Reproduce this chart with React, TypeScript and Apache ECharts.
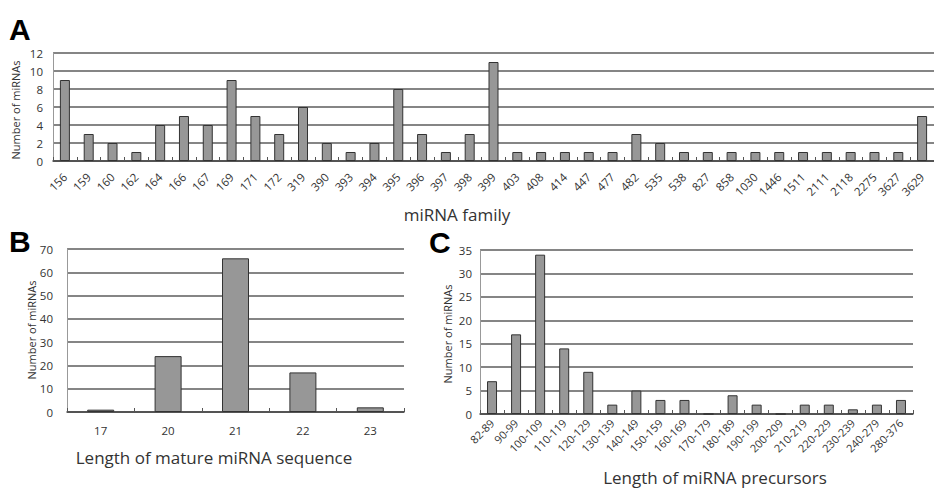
import React, { useEffect, useRef } from "react";
import * as echarts from "echarts";

const familyCats = ["156","159","160","162","164","166","167","169","171","172","319","390","393","394","395","396","397","398","399","403","408","414","447","477","482","535","538","827","858","1030","1446","1511","2111","2118","2275","3627","3629"];
const familyVals = [9,3,2,1,4,5,4,9,5,3,6,2,1,2,8,3,1,3,11,1,1,1,1,1,3,2,1,1,1,1,1,1,1,1,1,1,5];

const matureCats = ["17","20","21","22","23"];
const matureVals = [1,24,66,17,2];

const precCats = ["82-89","90-99","100-109","110-119","120-129","130-139","140-149","150-159","160-169","170-179","180-189","190-199","200-209","210-219","220-229","230-239","240-279","280-376"];
const precVals = [7,17,34,14,9,2,5,3,3,0,4,2,0,2,2,1,2,3];

const FONT = "Open Sans";
const LABEL_COLOR = "#333333";
const GRID_COLOR = "#5c5c5c";
const BAR_FILL = "#979797";
const BAR_BORDER = "#333333";

function xAxisFor(idx: number, data: string[], rotate: number, fontSize: number, margin: number) {
  return {
    type: "category",
    gridIndex: idx,
    data,
    axisLine: { show: true, lineStyle: { color: "#444", width: 1.5 } },
    axisTick: { show: true, inside: true, length: 4, lineStyle: { color: "#555" } },
    axisLabel: { interval: 0, rotate, fontSize, margin, color: LABEL_COLOR, fontFamily: FONT },
  };
}

function yAxisFor(idx: number, max: number, interval: number, fontSize: number, margin: number) {
  return {
    type: "value",
    gridIndex: idx,
    min: 0,
    max,
    interval,
    axisLine: { show: true, lineStyle: { color: "#999", width: 1 } },
    axisTick: { show: false },
    axisLabel: { fontSize, margin, color: LABEL_COLOR, fontFamily: FONT },
    splitLine: { show: true, lineStyle: { color: GRID_COLOR, width: 1.5 } },
  };
}

function barSeries(idx: number, data: number[], barWidth: number) {
  return {
    type: "bar",
    xAxisIndex: idx,
    yAxisIndex: idx,
    data,
    barWidth,
    itemStyle: { color: BAR_FILL, borderColor: BAR_BORDER, borderWidth: 1 },
  };
}

function rotText(text: string, x: number, y: number) {
  return {
    type: "text",
    x,
    y,
    rotation: Math.PI / 2,
    style: {
      text,
      fontSize: 11,
      fontFamily: FONT,
      fill: LABEL_COLOR,
      align: "center",
      verticalAlign: "middle",
    },
  };
}

function titleText(text: string, x: number, y: number) {
  return {
    type: "text",
    x,
    y,
    style: {
      text,
      fontSize: 17,
      fontFamily: FONT,
      fill: "#333",
      align: "center",
      verticalAlign: "middle",
    },
  };
}

function panelLetter(text: string, x: number, y: number) {
  return {
    type: "text",
    x,
    y,
    style: {
      text,
      fontSize: 30,
      fontWeight: "bold",
      fontFamily: "Liberation Sans",
      fill: "#000",
      align: "left",
      verticalAlign: "middle",
    },
  };
}

export default function App() {
  const ref = useRef<HTMLDivElement>(null);
  useEffect(() => {
    if (!ref.current) return;
    const chart = echarts.init(ref.current, undefined, { renderer: "svg" });
    chart.setOption({
      animation: false,
      backgroundColor: "#ffffff",
      grid: [
        { left: 53, top: 53, width: 883, height: 108 },
        { left: 67, top: 249, width: 337, height: 163 },
        { left: 480, top: 250, width: 433, height: 164 },
      ],
      xAxis: [
        xAxisFor(0, familyCats, 45, 11.5, 14),
        xAxisFor(1, matureCats, 0, 11.5, 12),
        xAxisFor(2, precCats, 45, 11, 7),
      ],
      yAxis: [
        yAxisFor(0, 12, 2, 11.5, 10),
        yAxisFor(1, 70, 10, 11.5, 14),
        yAxisFor(2, 35, 5, 11.5, 8),
      ],
      series: [
        barSeries(0, familyVals, 10),
        barSeries(1, matureVals, 27),
        barSeries(2, precVals, 10),
      ],
      graphic: [
        panelLetter("A", 9, 29),
        panelLetter("B", 9, 241),
        panelLetter("C", 429, 242),
        rotText("Number of miRNAs", 15, 110),
        rotText("Number of miRNAs", 31, 330),
        rotText("Number of miRNAs", 447, 334),
        titleText("miRNA family", 457, 214),
        titleText("Length of mature miRNA sequence", 214, 457),
        titleText("Length of miRNA precursors", 715, 477),
      ],
    });
    return () => chart.dispose();
  }, []);
  return (
    <div
      ref={ref}
      style={{ position: "fixed", left: 0, top: 0, width: 934, height: 488, background: "#fff" }}
    />
  );
}
